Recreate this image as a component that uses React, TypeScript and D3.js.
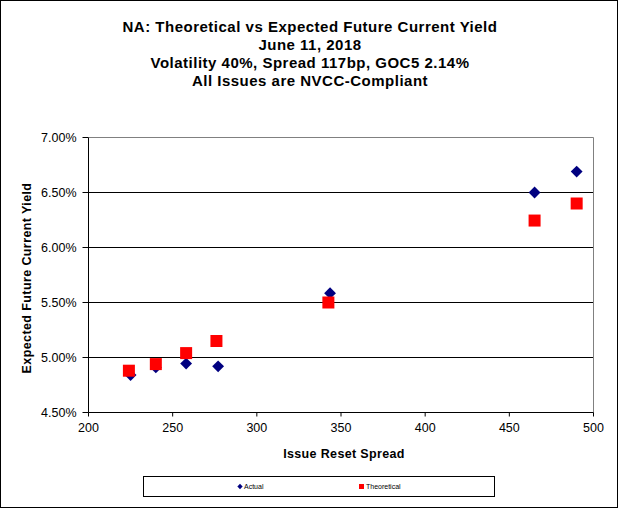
import React from "react";
import * as d3 from "d3";

const actualSpread = [225, 240, 258, 277, 343.5, 465, 490];
const actualYield = [4.84, 4.91, 4.945, 4.92, 5.585, 6.5, 6.69];
const theoSpread = [224, 240, 258, 276, 342.5, 465, 490];
const theoYield = [4.88, 4.94, 5.04, 5.15, 5.5, 6.245, 6.4];
const xTicks = [200, 250, 300, 350, 400, 450, 500];
const yTicks = [4.5, 5.0, 5.5, 6.0, 6.5, 7.0];
const titleLines = [
  "NA: Theoretical vs Expected Future Current Yield",
  "June 11, 2018",
  "Volatility 40%, Spread 117bp, GOC5 2.14%",
  "All Issues are NVCC-Compliant",
];
const seriesNames = ["Actual", "Theoretical"];

const W = 619;
const H = 509;
const L = 88.5, R = 593.5, T = 137.5, B = 412.5;
const FONT = "'Liberation Sans', Arial, sans-serif";

export default function App() {
  const x = d3.scaleLinear().domain([200, 500]).range([L, R]);
  const y = d3.scaleLinear().domain([4.5, 7.0]).range([B, T]);
  const diamond = d3.symbol().type(d3.symbolSquare).size(70)();
  const legendDiamond = d3.symbol().type(d3.symbolSquare).size(14)();
  const fmt = (v: number) => v.toFixed(2) + "%";
  return (
    <svg width={W} height={H} style={{ position: "absolute", left: 0, top: 0 }}>
      <rect x={0} y={0} width={W} height={H} fill="#fff" />
      <rect x={0.5} y={0.5} width={W - 2} height={H - 2} fill="none" stroke="#000" strokeWidth={1} />
      {titleLines.map((t, i) => (
        <text key={i} x={310} y={32 + i * 18} textAnchor="middle" fontFamily={FONT} fontWeight="bold" fontSize={15} letterSpacing={0.5} fill="#000">
          {t}
        </text>
      ))}
      {yTicks.map((v) => (
        <g key={v}>
          {v !== 4.5 && v !== 7.0 && (
            <line x1={L} x2={R} y1={y(v)} y2={y(v)} stroke="#000" strokeWidth={1} />
          )}
          <line x1={L - 6} x2={L} y1={y(v)} y2={y(v)} stroke="#000" />
          <text x={L - 12} y={y(v) + 4.5} textAnchor="end" fontFamily={FONT} fontSize={12.5} fill="#000">
            {fmt(v)}
          </text>
        </g>
      ))}
      <line x1={L} x2={R} y1={T} y2={T} stroke="#808080" />
      <line x1={R} x2={R} y1={T} y2={B} stroke="#808080" />
      <line x1={L} x2={L} y1={T} y2={B} stroke="#000" />
      <line x1={L} x2={R} y1={B} y2={B} stroke="#000" />
      {xTicks.map((v) => (
        <g key={v}>
          <line x1={x(v)} x2={x(v)} y1={B} y2={B + 4} stroke="#000" />
          <text x={x(v)} y={B + 19} textAnchor="middle" fontFamily={FONT} fontSize={12.5} fill="#000">
            {v}
          </text>
        </g>
      ))}
      <text x={344} y={458} textAnchor="middle" fontFamily={FONT} fontWeight="bold" fontSize={12.5} letterSpacing={0.35} fill="#000">
        Issue Reset Spread
      </text>
      <text transform={`translate(31,${(T + B) / 2 + 3}) rotate(-90)`} textAnchor="middle" fontFamily={FONT} fontWeight="bold" fontSize={12.5} letterSpacing={0.4} fill="#000">
        Expected Future Current Yield
      </text>
      {actualSpread.map((s, i) => (
        <path key={"a" + i} d={diamond!} transform={`translate(${x(s)},${y(actualYield[i])}) rotate(45)`} fill="#000080" />
      ))}
      {theoSpread.map((s, i) => (
        <rect key={"t" + i} x={x(s) - 6} y={y(theoYield[i]) - 6} width={12} height={12} fill="#ff0000" />
      ))}
      <rect x={143.5} y={476.5} width={351} height={20} fill="#fff" stroke="#000" />
      <path d={legendDiamond!} transform="translate(240,486.5) rotate(45)" fill="#000080" />
      <text x={244} y={489} fontFamily={FONT} fontSize={7} fill="#000">{seriesNames[0]}</text>
      <rect x={359} y={484} width={5} height={5} fill="#ff0000" />
      <text x={366} y={489} fontFamily={FONT} fontSize={7} fill="#000">{seriesNames[1]}</text>
    </svg>
  );
}
